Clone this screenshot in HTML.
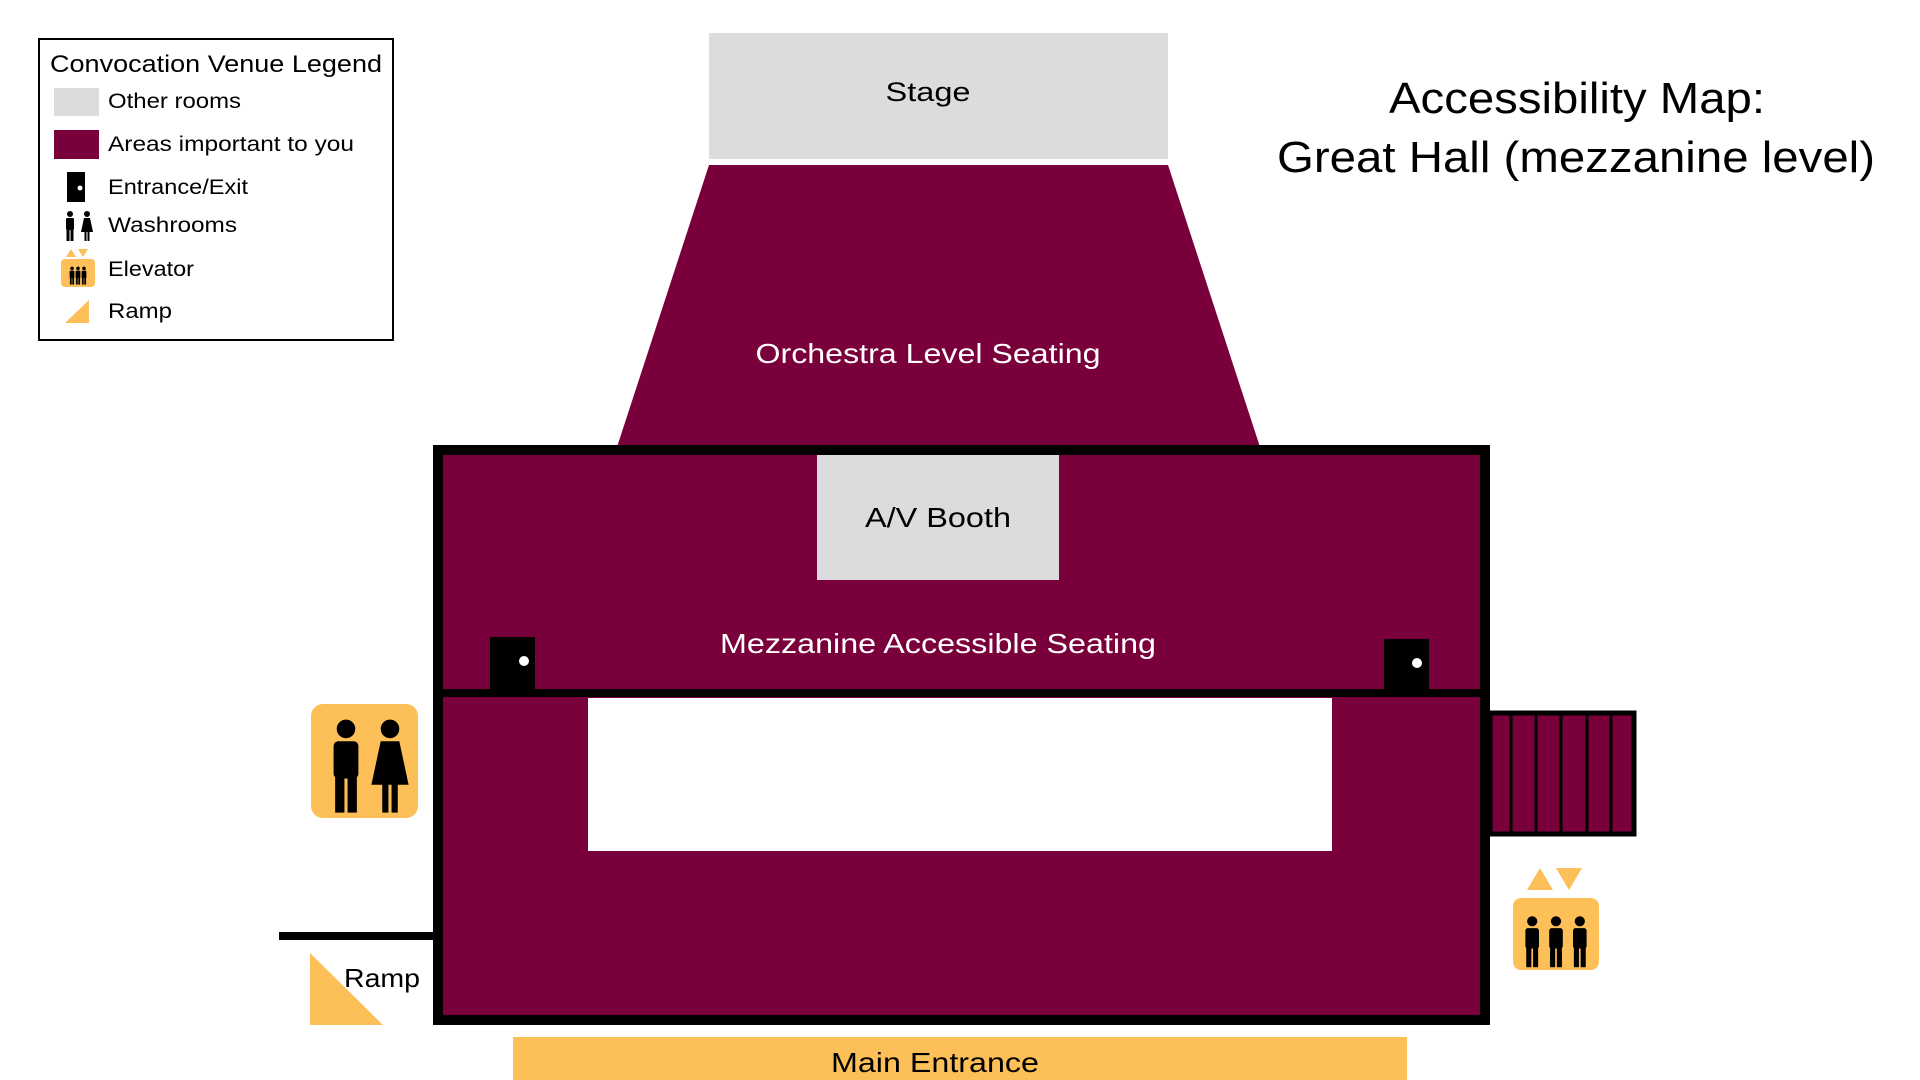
<!DOCTYPE html>
<html><head><meta charset="utf-8"><style>html,body{margin:0;padding:0;background:#fff}svg{display:block}</style></head>
<body>
<svg width="1920" height="1080" viewBox="0 0 1920 1080" xmlns="http://www.w3.org/2000/svg" font-family="Liberation Sans, sans-serif">
<defs>
<g id="man"><circle cx="0" cy="-22" r="6"/><rect x="-8" y="-14" width="16" height="24" rx="3"/><rect x="-7" y="8" width="6" height="24"/><rect x="1" y="8" width="6" height="24"/></g>
<g id="woman"><circle cx="0" cy="-22" r="6"/><path d="M-6,-14 H6 L12,14 H-12 Z"/><rect x="-5" y="12" width="4" height="20"/><rect x="1" y="12" width="4" height="20"/></g>
</defs>
<!-- Legend -->
<rect x="39" y="39" width="354" height="301" fill="#fff" stroke="#000" stroke-width="2"/>
<text x="50" y="72" font-size="24" textLength="332" lengthAdjust="spacingAndGlyphs">Convocation Venue Legend</text>
<rect x="54" y="88" width="45" height="28" fill="#dcdcde"/>
<text x="108" y="108" font-size="21" textLength="133" lengthAdjust="spacingAndGlyphs">Other rooms</text>
<rect x="54" y="130" width="45" height="29" fill="#7a003c"/>
<text x="108" y="151" font-size="21" textLength="246" lengthAdjust="spacingAndGlyphs">Areas important to you</text>
<rect x="67" y="172" width="18" height="30" fill="#000"/><circle cx="80" cy="188" r="2.5" fill="#fff"/>
<text x="108" y="194" font-size="21" textLength="140" lengthAdjust="spacingAndGlyphs">Entrance/Exit</text>
<g transform="translate(70,225) scale(0.5)"><use href="#man"/></g>
<g transform="translate(87,225) scale(0.5)"><use href="#woman"/></g>
<text x="108" y="232" font-size="21" textLength="129" lengthAdjust="spacingAndGlyphs">Washrooms</text>
<path d="M66,257 L71,249 L76,257Z M78,249 L88,249 L83,257Z" fill="#fdbf57"/>
<rect x="61" y="259" width="34" height="28" rx="4" fill="#fdbf57"/>
<g transform="translate(78,275) scale(0.3)"><use href="#man" x="-20"/><use href="#man"/><use href="#man" x="20"/></g>
<text x="108" y="276" font-size="21" textLength="86" lengthAdjust="spacingAndGlyphs">Elevator</text>
<path d="M65,323 L89,300 L89,323Z" fill="#fdbf57"/>
<text x="108" y="318" font-size="21" textLength="64" lengthAdjust="spacingAndGlyphs">Ramp</text>

<!-- Title -->
<text x="1577" y="113" font-size="44" text-anchor="middle" textLength="376" lengthAdjust="spacingAndGlyphs">Accessibility Map:</text>
<text x="1576" y="172" font-size="44" text-anchor="middle" textLength="598" lengthAdjust="spacingAndGlyphs">Great Hall (mezzanine level)</text>

<!-- Stage -->
<rect x="709" y="33" width="459" height="126" fill="#dcdcde"/>
<text x="928" y="101" font-size="27" text-anchor="middle" textLength="85" lengthAdjust="spacingAndGlyphs">Stage</text>
<!-- Orchestra -->
<path d="M709,165 L1168,165 L1260,447 L617,447Z" fill="#7a003c"/>
<text x="928" y="363" font-size="28" fill="#fff" text-anchor="middle" textLength="345" lengthAdjust="spacingAndGlyphs">Orchestra Level Seating</text>

<!-- Main box -->
<rect x="438" y="450" width="1047" height="570" fill="#7a003c" stroke="#000" stroke-width="10"/>
<rect x="817" y="455" width="242" height="125" fill="#dcdcde"/>
<text x="938" y="527" font-size="28" text-anchor="middle" textLength="146" lengthAdjust="spacingAndGlyphs">A/V Booth</text>
<text x="938" y="653" font-size="28" fill="#fff" text-anchor="middle" textLength="436" lengthAdjust="spacingAndGlyphs">Mezzanine Accessible Seating</text>
<rect x="440" y="689" width="1045" height="8" fill="#000"/>
<rect x="490" y="637" width="45" height="56" fill="#000"/><circle cx="524" cy="661" r="5" fill="#fff"/>
<rect x="1384" y="639" width="45" height="54" fill="#000"/><circle cx="1417" cy="663" r="5" fill="#fff"/>
<rect x="588" y="698" width="744" height="153" fill="#fff"/>

<!-- Stairs -->
<rect x="1490" y="713" width="144" height="121" fill="#7a003c" stroke="#000" stroke-width="5"/>
<g stroke="#000" stroke-width="3"><line x1="1511" y1="713" x2="1511" y2="834"/><line x1="1536" y1="713" x2="1536" y2="834"/><line x1="1561" y1="713" x2="1561" y2="834"/><line x1="1587" y1="713" x2="1587" y2="834"/><line x1="1611" y1="713" x2="1611" y2="834"/></g>

<!-- Washroom -->
<rect x="311" y="704" width="107" height="114" rx="12" fill="#fdbf57"/>
<g transform="translate(346,763) scale(1.55)"><use href="#man"/></g>
<g transform="translate(390,763) scale(1.55)"><use href="#woman"/></g>

<!-- Elevator -->
<path d="M1527,890 L1540,868 L1553,890Z M1556,868 L1582,868 L1569,890Z" fill="#fdbf57"/>
<rect x="1513" y="898" width="86" height="72" rx="8" fill="#fdbf57"/>
<g transform="translate(1556,940) scale(0.85)"><use href="#man" x="-28"/><use href="#man"/><use href="#man" x="28"/></g>

<!-- Ramp -->
<rect x="279" y="932" width="156" height="8" fill="#000"/>
<path d="M310,953 L383,1025 L310,1025Z" fill="#fdbf57"/>
<text x="344" y="987" font-size="26" textLength="76" lengthAdjust="spacingAndGlyphs">Ramp</text>

<!-- Main entrance -->
<rect x="513" y="1037" width="894" height="43" fill="#fdbf57"/>
<text x="935" y="1072" font-size="28" text-anchor="middle" textLength="208" lengthAdjust="spacingAndGlyphs">Main Entrance</text>
</svg>
</body></html>
